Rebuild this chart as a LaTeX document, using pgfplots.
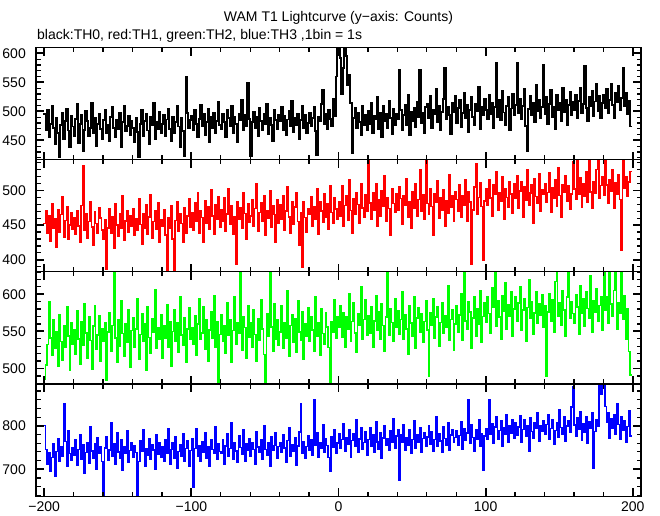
\documentclass[border=0pt]{standalone}
\usepackage{pgfplots}
\usepackage{pgfplotstable}
\pgfplotsset{compat=1.18}
\usepackage{fontspec}
\setmainfont{Liberation Sans}
\definecolor{pred}{RGB}{255,0,0}
\definecolor{pgreen}{RGB}{0,255,0}
\definecolor{pblue}{RGB}{0,0,255}

% TH0 (black), bins of 1 s from -200 s
\pgfplotstableread[row sep=\\,header=false]{
495\\ 468\\ 502\\ 455\\ 478\\ 510\\ 471\\ 444\\ 489\\ 463\\ 421\\ 476\\ 498\\ 452\\ 483\\ 505\\ 467\\ 438\\ 492\\ 474\\
458\\ 487\\ 512\\ 446\\ 479\\ 493\\ 431\\ 468\\ 501\\ 484\\ 457\\ 472\\ 515\\ 463\\ 489\\ 441\\ 478\\ 496\\ 470\\ 452\\
485\\ 503\\ 462\\ 477\\ 449\\ 491\\ 508\\ 472\\ 455\\ 486\\ 469\\ 497\\ 438\\ 481\\ 510\\ 466\\ 475\\ 492\\ 459\\ 483\\
471\\ 447\\ 489\\ 465\\ 421\\ 479\\ 502\\ 458\\ 484\\ 496\\ 467\\ 443\\ 490\\ 476\\ 514\\ 452\\ 481\\ 469\\ 499\\ 462\\
478\\ 493\\ 457\\ 486\\ 505\\ 470\\ 448\\ 491\\ 463\\ 482\\ 509\\ 474\\ 439\\ 488\\ 466\\ 423\\ 560\\ 497\\ 471\\ 485\\
492\\ 468\\ 503\\ 479\\ 455\\ 487\\ 511\\ 474\\ 496\\ 460\\ 482\\ 505\\ 447\\ 490\\ 471\\ 498\\ 463\\ 484\\ 517\\ 476\\
469\\ 495\\ 481\\ 456\\ 502\\ 488\\ 474\\ 510\\ 463\\ 491\\ 478\\ 447\\ 496\\ 485\\ 520\\ 468\\ 493\\ 475\\ 549\\ 487\\
423\\ 481\\ 499\\ 472\\ 490\\ 458\\ 506\\ 484\\ 467\\ 495\\ 479\\ 512\\ 461\\ 488\\ 476\\ 449\\ 502\\ 485\\ 470\\ 494\\
483\\ 507\\ 468\\ 492\\ 459\\ 486\\ 501\\ 475\\ 518\\ 464\\ 489\\ 477\\ 496\\ 452\\ 485\\ 509\\ 471\\ 493\\ 462\\ 480\\
497\\ 474\\ 489\\ 508\\ 466\\ 425\\ 491\\ 483\\ 512\\ 537\\ 478\\ 495\\ 469\\ 503\\ 487\\ 474\\ 521\\ 492\\ 560\\ 615\\
615\\ 592\\ 530\\ 575\\ 612\\ 596\\ 545\\ 562\\ 515\\ 429\\ 488\\ 506\\ 471\\ 497\\ 482\\ 459\\ 510\\ 476\\ 494\\ 468\\
501\\ 479\\ 515\\ 463\\ 492\\ 487\\ 524\\ 470\\ 498\\ 455\\ 509\\ 483\\ 496\\ 472\\ 518\\ 489\\ 461\\ 504\\ 477\\ 495\\
486\\ 571\\ 502\\ 468\\ 493\\ 511\\ 477\\ 529\\ 459\\ 499\\ 484\\ 506\\ 473\\ 517\\ 490\\ 571\\ 480\\ 497\\ 463\\ 508\\
512\\ 489\\ 526\\ 471\\ 503\\ 495\\ 538\\ 482\\ 510\\ 467\\ 499\\ 521\\ 575\\ 486\\ 508\\ 493\\ 461\\ 515\\ 498\\ 527\\
480\\ 506\\ 519\\ 473\\ 497\\ 532\\ 488\\ 511\\ 464\\ 502\\ 525\\ 491\\ 477\\ 513\\ 500\\ 542\\ 469\\ 508\\ 494\\ 521\\
503\\ 487\\ 529\\ 496\\ 514\\ 472\\ 508\\ 583\\ 491\\ 519\\ 485\\ 536\\ 498\\ 477\\ 510\\ 524\\ 467\\ 505\\ 530\\ 493\\
511\\ 583\\ 497\\ 522\\ 486\\ 509\\ 538\\ 475\\ 431\\ 504\\ 527\\ 493\\ 515\\ 482\\ 546\\ 501\\ 519\\ 488\\ 508\\ 580\\
496\\ 524\\ 479\\ 512\\ 537\\ 490\\ 507\\ 469\\ 528\\ 502\\ 515\\ 483\\ 541\\ 498\\ 520\\ 476\\ 511\\ 533\\ 494\\ 517\\
502\\ 529\\ 488\\ 518\\ 541\\ 497\\ 513\\ 578\\ 506\\ 484\\ 524\\ 509\\ 535\\ 492\\ 517\\ 547\\ 501\\ 526\\ 489\\ 515\\
528\\ 505\\ 539\\ 497\\ 520\\ 548\\ 511\\ 489\\ 532\\ 516\\ 544\\ 502\\ 523\\ 575\\ 509\\ 531\\ 496\\ 518\\ 474\\ 474\\
}\tblA

% TH1 (red)
\pgfplotstableread[row sep=\\,header=false]{
452\\ 471\\ 438\\ 463\\ 427\\ 481\\ 446\\ 459\\ 418\\ 472\\ 440\\ 465\\ 491\\ 433\\ 457\\ 476\\ 429\\ 450\\ 468\\ 444\\
461\\ 437\\ 470\\ 449\\ 425\\ 478\\ 536\\ 442\\ 466\\ 431\\ 455\\ 484\\ 447\\ 421\\ 469\\ 452\\ 438\\ 475\\ 460\\ 443\\
429\\ 458\\ 387\\ 446\\ 473\\ 439\\ 462\\ 417\\ 481\\ 450\\ 434\\ 467\\ 445\\ 492\\ 428\\ 456\\ 471\\ 440\\ 463\\ 448\\
474\\ 435\\ 459\\ 442\\ 488\\ 451\\ 423\\ 467\\ 446\\ 479\\ 437\\ 462\\ 494\\ 431\\ 455\\ 470\\ 444\\ 482\\ 426\\ 458\\
449\\ 472\\ 436\\ 383\\ 461\\ 445\\ 478\\ 430\\ 384\\ 457\\ 483\\ 441\\ 466\\ 452\\ 426\\ 475\\ 439\\ 463\\ 488\\ 447\\
468\\ 443\\ 482\\ 455\\ 497\\ 439\\ 470\\ 461\\ 426\\ 485\\ 452\\ 476\\ 444\\ 501\\ 463\\ 437\\ 479\\ 458\\ 491\\ 447\\
472\\ 456\\ 489\\ 441\\ 466\\ 503\\ 451\\ 478\\ 437\\ 462\\ 393\\ 484\\ 459\\ 475\\ 445\\ 496\\ 467\\ 430\\ 481\\ 454\\
463\\ 487\\ 449\\ 474\\ 510\\ 441\\ 468\\ 482\\ 456\\ 493\\ 435\\ 471\\ 460\\ 499\\ 447\\ 478\\ 465\\ 426\\ 486\\ 452\\
479\\ 458\\ 492\\ 443\\ 470\\ 505\\ 462\\ 438\\ 484\\ 451\\ 476\\ 497\\ 455\\ 421\\ 468\\ 390\\ 483\\ 461\\ 440\\ 474\\
466\\ 491\\ 448\\ 477\\ 459\\ 502\\ 437\\ 483\\ 470\\ 454\\ 495\\ 462\\ 481\\ 444\\ 507\\ 468\\ 452\\ 489\\ 473\\ 458\\
484\\ 463\\ 506\\ 449\\ 478\\ 492\\ 457\\ 515\\ 471\\ 439\\ 488\\ 466\\ 497\\ 480\\ 452\\ 509\\ 475\\ 461\\ 494\\ 470\\
545\\ 482\\ 459\\ 496\\ 471\\ 510\\ 448\\ 486\\ 463\\ 499\\ 477\\ 521\\ 455\\ 490\\ 474\\ 436\\ 503\\ 481\\ 468\\ 495\\
472\\ 505\\ 488\\ 451\\ 493\\ 479\\ 517\\ 462\\ 484\\ 446\\ 498\\ 475\\ 509\\ 463\\ 487\\ 530\\ 470\\ 494\\ 458\\ 543\\
481\\ 466\\ 502\\ 477\\ 435\\ 495\\ 483\\ 514\\ 460\\ 489\\ 472\\ 501\\ 448\\ 485\\ 467\\ 523\\ 476\\ 492\\ 455\\ 498\\
487\\ 470\\ 508\\ 461\\ 493\\ 479\\ 516\\ 455\\ 498\\ 483\\ 393\\ 472\\ 505\\ 538\\ 466\\ 490\\ 511\\ 477\\ 400\\ 485\\
502\\ 478\\ 516\\ 489\\ 463\\ 508\\ 494\\ 527\\ 471\\ 497\\ 484\\ 519\\ 458\\ 503\\ 490\\ 476\\ 512\\ 495\\ 467\\ 509\\
488\\ 521\\ 474\\ 499\\ 513\\ 462\\ 505\\ 486\\ 530\\ 479\\ 496\\ 508\\ 453\\ 517\\ 491\\ 482\\ 524\\ 470\\ 501\\ 494\\
510\\ 483\\ 497\\ 526\\ 468\\ 504\\ 489\\ 515\\ 477\\ 532\\ 493\\ 461\\ 508\\ 498\\ 521\\ 484\\ 506\\ 473\\ 495\\ 541\\
502\\ 487\\ 544\\ 495\\ 518\\ 476\\ 509\\ 491\\ 527\\ 483\\ 545\\ 498\\ 474\\ 512\\ 496\\ 530\\ 543\\ 489\\ 507\\ 520\\
493\\ 545\\ 508\\ 482\\ 516\\ 499\\ 530\\ 475\\ 511\\ 494\\ 522\\ 487\\ 414\\ 545\\ 503\\ 519\\ 491\\ 512\\ 527\\ 527\\
}\tblB

% TH2 (green)
\pgfplotstableread[row sep=\\,header=false]{
485\\ 505\\ 532\\ 590\\ 541\\ 518\\ 566\\ 527\\ 549\\ 503\\ 572\\ 536\\ 511\\ 558\\ 529\\ 583\\ 544\\ 497\\ 561\\ 533\\
552\\ 519\\ 578\\ 540\\ 506\\ 563\\ 531\\ 587\\ 548\\ 514\\ 569\\ 538\\ 499\\ 557\\ 584\\ 526\\ 545\\ 571\\ 510\\ 553\\
537\\ 562\\ 484\\ 549\\ 575\\ 523\\ 558\\ 632\\ 541\\ 508\\ 566\\ 530\\ 591\\ 547\\ 517\\ 560\\ 535\\ 579\\ 502\\ 551\\
568\\ 529\\ 553\\ 594\\ 512\\ 546\\ 574\\ 536\\ 560\\ 498\\ 583\\ 542\\ 521\\ 567\\ 549\\ 606\\ 527\\ 555\\ 539\\ 572\\
514\\ 558\\ 541\\ 586\\ 528\\ 563\\ 503\\ 550\\ 579\\ 537\\ 561\\ 522\\ 596\\ 545\\ 531\\ 568\\ 509\\ 553\\ 582\\ 540\\
555\\ 532\\ 571\\ 518\\ 560\\ 594\\ 539\\ 548\\ 583\\ 526\\ 565\\ 510\\ 552\\ 577\\ 541\\ 598\\ 529\\ 563\\ 480\\ 546\\
573\\ 537\\ 558\\ 521\\ 589\\ 545\\ 566\\ 508\\ 551\\ 597\\ 533\\ 562\\ 547\\ 632\\ 525\\ 570\\ 555\\ 514\\ 584\\ 542\\
561\\ 528\\ 579\\ 546\\ 510\\ 567\\ 538\\ 592\\ 553\\ 519\\ 480\\ 574\\ 543\\ 632\\ 556\\ 523\\ 587\\ 540\\ 565\\ 531\\
549\\ 585\\ 527\\ 562\\ 541\\ 604\\ 516\\ 558\\ 573\\ 535\\ 567\\ 522\\ 591\\ 549\\ 538\\ 576\\ 513\\ 560\\ 544\\ 582\\
537\\ 569\\ 552\\ 523\\ 596\\ 544\\ 561\\ 518\\ 580\\ 547\\ 533\\ 575\\ 556\\ 528\\ 481\\ 563\\ 549\\ 592\\ 541\\ 570\\
556\\ 584\\ 542\\ 575\\ 528\\ 569\\ 553\\ 601\\ 537\\ 563\\ 589\\ 548\\ 522\\ 574\\ 558\\ 610\\ 539\\ 566\\ 592\\ 545\\
571\\ 547\\ 583\\ 529\\ 564\\ 598\\ 551\\ 576\\ 540\\ 587\\ 558\\ 523\\ 569\\ 632\\ 545\\ 580\\ 562\\ 536\\ 594\\ 555\\
578\\ 546\\ 566\\ 603\\ 539\\ 572\\ 553\\ 519\\ 585\\ 561\\ 544\\ 597\\ 527\\ 568\\ 582\\ 549\\ 574\\ 535\\ 563\\ 591\\
552\\ 489\\ 575\\ 558\\ 594\\ 541\\ 569\\ 583\\ 530\\ 562\\ 588\\ 547\\ 571\\ 555\\ 611\\ 538\\ 566\\ 579\\ 524\\ 560\\
585\\ 549\\ 572\\ 601\\ 538\\ 632\\ 564\\ 553\\ 590\\ 576\\ 527\\ 568\\ 597\\ 543\\ 581\\ 559\\ 604\\ 535\\ 570\\ 588\\
562\\ 596\\ 574\\ 548\\ 609\\ 583\\ 632\\ 557\\ 591\\ 569\\ 540\\ 598\\ 577\\ 615\\ 553\\ 586\\ 571\\ 603\\ 544\\ 580\\
597\\ 563\\ 588\\ 610\\ 551\\ 579\\ 594\\ 537\\ 582\\ 620\\ 568\\ 590\\ 546\\ 575\\ 603\\ 561\\ 587\\ 572\\ 599\\ 555\\
584\\ 490\\ 576\\ 601\\ 563\\ 592\\ 549\\ 617\\ 632\\ 571\\ 588\\ 558\\ 605\\ 579\\ 544\\ 596\\ 632\\ 567\\ 590\\ 574\\
561\\ 599\\ 583\\ 546\\ 612\\ 575\\ 594\\ 557\\ 603\\ 581\\ 568\\ 625\\ 549\\ 591\\ 576\\ 608\\ 563\\ 585\\ 597\\ 552\\
632\\ 578\\ 596\\ 561\\ 632\\ 587\\ 570\\ 605\\ 632\\ 553\\ 589\\ 574\\ 632\\ 566\\ 598\\ 540\\ 581\\ 523\\ 491\\ 491\\
}\tblC

% TH3 (blue)
\pgfplotstableread[row sep=\\,header=false]{
801\\ 746\\ 712\\ 738\\ 695\\ 727\\ 759\\ 683\\ 741\\ 770\\ 718\\ 752\\ 730\\ 850\\ 764\\ 707\\ 788\\ 736\\ 721\\ 749\\
733\\ 768\\ 709\\ 745\\ 780\\ 723\\ 756\\ 691\\ 739\\ 762\\ 714\\ 797\\ 742\\ 726\\ 758\\ 701\\ 773\\ 737\\ 752\\ 718\\
638\\ 749\\ 775\\ 721\\ 744\\ 806\\ 731\\ 759\\ 712\\ 783\\ 740\\ 725\\ 767\\ 698\\ 751\\ 736\\ 789\\ 716\\ 743\\ 762\\
727\\ 754\\ 739\\ 636\\ 718\\ 765\\ 741\\ 790\\ 706\\ 748\\ 733\\ 771\\ 722\\ 757\\ 744\\ 700\\ 779\\ 735\\ 761\\ 728\\
752\\ 719\\ 768\\ 737\\ 794\\ 711\\ 746\\ 760\\ 725\\ 775\\ 702\\ 741\\ 756\\ 731\\ 782\\ 719\\ 748\\ 766\\ 708\\ 743\\
771\\ 659\\ 748\\ 793\\ 731\\ 755\\ 719\\ 764\\ 740\\ 783\\ 726\\ 751\\ 708\\ 769\\ 745\\ 737\\ 797\\ 722\\ 758\\ 741\\
736\\ 767\\ 712\\ 754\\ 781\\ 729\\ 748\\ 806\\ 723\\ 760\\ 742\\ 715\\ 776\\ 750\\ 734\\ 790\\ 719\\ 758\\ 744\\ 771\\
729\\ 762\\ 745\\ 711\\ 786\\ 751\\ 738\\ 769\\ 722\\ 799\\ 746\\ 733\\ 760\\ 706\\ 775\\ 743\\ 755\\ 784\\ 726\\ 752\\
761\\ 738\\ 780\\ 749\\ 717\\ 766\\ 795\\ 731\\ 757\\ 742\\ 772\\ 709\\ 753\\ 786\\ 851\\ 737\\ 764\\ 725\\ 752\\ 778\\
744\\ 769\\ 733\\ 859\\ 756\\ 785\\ 728\\ 762\\ 748\\ 803\\ 739\\ 771\\ 755\\ 727\\ 696\\ 774\\ 751\\ 792\\ 737\\ 760\\
782\\ 748\\ 769\\ 805\\ 741\\ 773\\ 758\\ 792\\ 727\\ 766\\ 781\\ 752\\ 814\\ 738\\ 770\\ 796\\ 745\\ 762\\ 787\\ 733\\
768\\ 795\\ 752\\ 779\\ 740\\ 809\\ 763\\ 747\\ 784\\ 725\\ 772\\ 801\\ 756\\ 770\\ 743\\ 788\\ 761\\ 817\\ 748\\ 776\\
792\\ 675\\ 780\\ 761\\ 803\\ 744\\ 773\\ 755\\ 790\\ 736\\ 768\\ 812\\ 749\\ 779\\ 762\\ 796\\ 740\\ 771\\ 785\\ 752\\
774\\ 801\\ 758\\ 786\\ 741\\ 769\\ 820\\ 753\\ 782\\ 765\\ 738\\ 797\\ 771\\ 756\\ 808\\ 744\\ 779\\ 790\\ 761\\ 773\\
789\\ 755\\ 778\\ 810\\ 746\\ 793\\ 767\\ 784\\ 860\\ 759\\ 802\\ 773\\ 741\\ 790\\ 768\\ 815\\ 752\\ 781\\ 697\\ 776\\
794\\ 770\\ 860\\ 781\\ 805\\ 759\\ 797\\ 822\\ 768\\ 789\\ 811\\ 752\\ 795\\ 780\\ 826\\ 763\\ 799\\ 784\\ 815\\ 771\\
806\\ 779\\ 797\\ 824\\ 761\\ 792\\ 813\\ 776\\ 800\\ 742\\ 819\\ 787\\ 771\\ 806\\ 795\\ 830\\ 764\\ 801\\ 788\\ 812\\
780\\ 803\\ 826\\ 769\\ 794\\ 815\\ 757\\ 789\\ 808\\ 773\\ 837\\ 796\\ 781\\ 820\\ 764\\ 799\\ 811\\ 786\\ 843\\ 890\\
802\\ 776\\ 818\\ 791\\ 833\\ 767\\ 804\\ 785\\ 821\\ 759\\ 810\\ 795\\ 829\\ 703\\ 787\\ 814\\ 798\\ 896\\ 872\\ 896\\
896\\ 845\\ 808\\ 831\\ 772\\ 817\\ 794\\ 826\\ 780\\ 850\\ 803\\ 768\\ 821\\ 789\\ 812\\ 763\\ 798\\ 835\\ 776\\ 776\\
}\tblD

\pgfplotsset{
  panel/.style={
    scale only axis, width=605pt, height=112pt,
    anchor=north west,
    xmin=-205.6, xmax=205.6,
    xtick={-200,-100,0,100,200},
    minor xtick={-200,-180,...,200},
    tick align=inside, xtick pos=both, ytick pos=both,
    major tick length=8pt, minor tick length=4.5pt,
    major tick style={line width=1.8pt,black},
    minor tick style={line width=1.2pt,black},
    axis line style={line width=1.4pt,black},
    axis on top=true,
    xticklabels={},
    tick label style={font=\fontsize{14}{14}\selectfont},
    yticklabel style={inner sep=0pt, xshift=-10pt},
    xticklabel style={inner sep=0pt, yshift=-5.5pt},
  },
  series/.style={const plot, line join=miter, line cap=rect},
}

\begin{document}
\begin{tikzpicture}[x=1pt,y=1pt]
\useasboundingbox (0pt,0pt) rectangle (660pt,-515pt);
\node[anchor=base] at (338.5pt,-21.3pt) {\fontsize{14}{16}\selectfont WAM T1 Lightcurve (y−axis: Counts)};
\node[anchor=base west, inner sep=0pt] at (37pt,-39pt) {\fontsize{14}{16}\selectfont black:TH0, red:TH1, green:TH2, blue:TH3 ,1bin = 1s};

\begin{axis}[panel, at={(36pt,-47.7pt)},
  ymin=416.7, ymax=609.7,
  ytick={450,500,550,600}, yticklabels={450,500,550,600},
  minor ytick={420,430,...,600}]
\addplot[series, black, line width=1.9pt] table[x expr=\coordindex-200, y index=0]{\tblA};
\end{axis}

\begin{axis}[panel, at={(36pt,-159.5pt)},
  ymin=383.2, ymax=544.5,
  ytick={400,450,500}, yticklabels={400,450,500},
  minor ytick={390,400,...,540}]
\addplot[series, pred, line width=1.5pt] table[x expr=\coordindex-200, y index=0]{\tblB};
\end{axis}

\begin{axis}[panel, at={(36pt,-271.7pt)},
  ymin=479.5, ymax=630.3,
  ytick={500,550,600}, yticklabels={500,550,600},
  minor ytick={480,490,...,630}]
\addplot[series, pgreen, line width=1.5pt] table[x expr=\coordindex-200, y index=0]{\tblC};
\end{axis}

\begin{axis}[panel, at={(36pt,-384.3pt)},
  ymin=637.6, ymax=895.6,
  ytick={700,800}, yticklabels={700,800},
  minor ytick={640,660,...,880},
  xticklabels={−200,−100,0,100,200}]
\addplot[series, pblue, line width=1.5pt] table[x expr=\coordindex-200, y index=0]{\tblD};
\end{axis}
\end{tikzpicture}
\end{document}
